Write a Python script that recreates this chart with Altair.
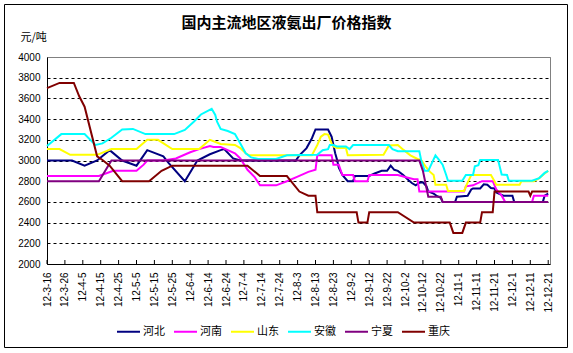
import altair as alt
import pandas as pd

YEAR = 2012
CJK = "Noto Sans CJK SC"
LATIN = "Liberation Sans"

SERIES = ["河北", "河南", "山东", "安徽", "宁夏", "重庆"]
COLORS = ["#000080", "#FF00FF", "#FFFF00", "#00FFFF", "#800080", "#800000"]

TICK_DATES = ["3-16", "3-26", "4-5", "4-15", "4-25", "5-5", "5-15", "5-25", "6-4", "6-14",
              "6-24", "7-4", "7-14", "7-24", "8-3", "8-13", "8-23", "9-2", "9-12", "9-22",
              "10-2", "10-12", "10-22", "11-1", "11-11", "11-21", "12-1", "12-11", "12-21"]
Y_TICKS = [2000, 2200, 2400, 2600, 2800, 3000, 3200, 3400, 3600, 3800, 4000]

hebei_dates = ["3-16", "3-30", "4-6", "4-13", "4-20", "4-27", "5-5", "5-11", "5-20", "5-23",
               "6-1", "6-8", "6-15", "6-21", "6-23", "6-28", "7-2", "8-2", "8-4", "8-8",
               "8-11", "8-13", "8-20", "8-22", "8-24", "8-25", "8-26", "8-28", "8-31", "9-3",
               "9-4", "9-12", "9-15", "9-19", "9-22", "9-24", "9-26", "9-28", "10-1", "10-4",
               "10-6", "10-8", "10-10", "10-12", "10-14", "10-15", "10-18", "10-20", "10-22", "10-23",
               "10-30", "10-31", "11-6", "11-8", "11-9", "11-13", "11-15", "11-17", "11-19", "11-21",
               "11-22", "11-26", "12-1", "12-2", "12-18", "12-19", "12-21"]
hebei_values = [3000, 3000, 2950, 3000, 3100, 3000, 2950, 3100, 3040, 2975,
                2800, 3000, 3060, 3100, 3110, 3020, 3000, 3000, 3050, 3120,
                3215, 3300, 3300, 3230, 3070, 3010, 2930, 2860, 2800, 2800,
                2850, 2850, 2875, 2900, 2900, 2950, 2910, 2900, 2860, 2810,
                2780, 2760, 2785, 2790, 2750, 2700, 2680, 2655, 2640, 2600,
                2600, 2650, 2660, 2720, 2730, 2730, 2770, 2765, 2735, 2730,
                2690, 2660, 2660, 2600, 2600, 2660, 2680]

henan_dates = ["3-16", "4-14", "4-22", "5-5", "5-9", "5-11", "5-20", "5-27", "6-4", "6-9",
               "6-15", "6-17", "6-21", "6-25", "6-29", "7-2", "7-6", "7-10", "7-13", "7-22",
               "7-28", "8-3", "8-9", "8-13", "8-14", "8-22", "8-23", "8-26", "8-28", "9-3",
               "9-4", "9-11", "9-12", "9-28", "10-2", "10-7", "10-9", "10-10", "11-4", "11-5",
               "11-9", "11-14", "11-20", "11-22", "11-25", "11-27", "12-12", "12-13", "12-21"]
henan_values = [2850, 2850, 2900, 2900, 2960, 3000, 3000, 3020, 3080, 3110,
                3140, 3130, 3130, 3100, 3070, 3020, 2910, 2840, 2760, 2760,
                2800, 2845, 2890, 2910, 3050, 3050, 2960, 2960, 2860, 2860,
                2800, 2800, 2860, 2860, 2840, 2820, 2820, 2700, 2700, 2750,
                2760, 2800, 2800, 2720, 2660, 2600, 2600, 2660, 2660]

shandong_dates = ["3-16", "3-23", "3-29", "4-13", "4-21", "5-5", "5-11", "5-17", "5-25", "6-9",
                  "6-15", "6-21", "6-29", "7-2", "7-5", "7-7", "8-11", "8-14", "8-16", "8-18",
                  "8-20", "8-22", "8-23", "8-25", "8-30", "8-31", "9-20", "9-23", "9-28", "10-1",
                  "10-5", "10-9", "10-11", "10-14", "10-16", "10-18", "10-19", "10-25", "10-26", "11-4",
                  "11-5", "11-8", "11-19", "11-21", "11-22", "12-5", "12-6", "12-13", "12-16", "12-19",
                  "12-21"]
shandong_values = [3110, 3110, 3055, 3055, 3110, 3110, 3200, 3200, 3110, 3110,
                   3200, 3160, 3150, 3120, 3070, 3050, 3050, 3150, 3230, 3255,
                   3250, 3165, 3135, 3120, 3120, 3050, 3055, 3145, 3150, 3105,
                   3050, 3015, 3005, 2930, 2890, 2860, 2765, 2765, 2705, 2705,
                   2750, 2860, 2860, 2800, 2765, 2765, 2800, 2800, 2830, 2875,
                   2900]

anhui_dates = ["3-16", "3-24", "4-6", "4-12", "4-16", "4-21", "4-27", "5-3", "5-10", "5-26",
               "6-1", "6-6", "6-10", "6-16", "6-18", "6-19", "6-21", "6-25", "6-29", "7-2",
               "7-5", "7-8", "7-12", "7-22", "7-28", "8-14", "8-17", "8-20", "8-21", "8-23",
               "8-25", "8-30", "9-1", "9-3", "9-23", "9-25", "9-28", "10-10", "10-11", "10-13",
               "10-15", "10-17", "10-19", "10-21", "10-23", "10-25", "10-26", "11-3", "11-5", "11-9",
               "11-10", "11-12", "11-13", "11-23", "11-25", "11-28", "11-29", "12-12", "12-16", "12-19",
               "12-21"]
anhui_values = [3140, 3255, 3255, 3150, 3165, 3220, 3300, 3305, 3255, 3255,
                3295, 3375, 3445, 3500, 3440, 3375, 3305, 3285, 3255, 3165,
                3070, 3030, 3015, 3015, 3050, 3055, 3100, 3110, 3150, 3150,
                3135, 3135, 3110, 3150, 3150, 3110, 3090, 3090, 3005, 2900,
                2900, 2975, 3050, 3005, 2960, 2860, 2805, 2805, 2860, 2860,
                2945, 2955, 3005, 3005, 2865, 2860, 2805, 2805, 2830, 2880,
                2900]

ningxia_dates = ["3-16", "4-14", "4-21", "10-10", "10-12", "10-15", "10-22", "10-23", "12-21"]
ningxia_values = [2800, 2800, 3000, 3000, 2900, 2650, 2650, 2600, 2600]

chongqing_dates = ["3-16", "3-23", "3-31", "4-3", "4-6", "4-13", "4-16", "4-20", "4-27", "5-12",
                   "5-19", "5-25", "7-6", "7-13", "7-28", "8-4", "8-9", "8-13", "8-14", "9-5",
                   "9-6", "9-11", "9-12", "9-28", "10-7", "10-27", "10-29", "11-3", "11-5", "11-13",
                   "11-14", "11-20", "11-21", "12-10", "12-11", "12-12", "12-21"]
chongqing_values = [3700, 3750, 3750, 3620, 3520, 3040, 3005, 2950, 2800, 2800,
                    2900, 2950, 2950, 2850, 2850, 2700, 2660, 2660, 2500, 2500,
                    2400, 2400, 2500, 2500, 2400, 2400, 2300, 2300, 2400, 2400,
                    2500, 2500, 2700, 2700, 2660, 2700, 2700]


def iso(md):
    m, d = md.split("-")
    return f"{YEAR}-{int(m):02d}-{int(d):02d}T00:00:00"


def dt(md):
    m, d = md.split("-")
    return alt.DateTime(year=YEAR, month=int(m), date=int(d))


series_data = [
    ("河北", hebei_dates, hebei_values),
    ("河南", henan_dates, henan_values),
    ("山东", shandong_dates, shandong_values),
    ("安徽", anhui_dates, anhui_values),
    ("宁夏", ningxia_dates, ningxia_values),
    ("重庆", chongqing_dates, chongqing_values),
]
rows = []
for name, dates, vals in series_data:
    assert len(dates) == len(vals), name
    for md, v in zip(dates, vals):
        rows.append({"series": name, "date": iso(md), "value": v})
df = pd.DataFrame(rows)
ticks_df = pd.DataFrame({"date": [iso(t) for t in TICK_DATES]})

W, H = 503, 207

x_enc = alt.X(
    "date:T",
    scale=alt.Scale(domain=[dt("3-16"), dt("12-22")]),
    axis=alt.Axis(
        values=[dt(t) for t in TICK_DATES],
        labelExpr="timeFormat(datum.value, '%y-%-m-%-d')",
        labelAngle=270, labelOverlap=False, labelFlush=False,
        ticks=False, grid=False, title=None,
        labelFont=LATIN, labelFontSize=10, labelColor="black", labelPadding=8,
        domainColor="black", domainWidth=1,
    ),
)
y_enc = alt.Y(
    "value:Q",
    scale=alt.Scale(domain=[2000, 4000], nice=False, zero=False),
    axis=alt.Axis(
        values=Y_TICKS, format="d", ticks=False,
        labelFont=LATIN, labelFontSize=10, labelColor="black", labelPadding=7,
        domainColor="black", domainWidth=1,
        grid=True,
        gridColor={"condition": {"test": "datum.value == 4000", "value": "#808080"}, "value": "black"},
        gridDash={"condition": {"test": "datum.value == 4000", "value": []}, "value": [3, 3]},
        gridWidth=1,
        title="元/吨", titleAngle=0, titleX=-27, titleY=-20, titleAlign="left",
        titleBaseline="middle", titleFont=CJK, titleFontSize=11, titleFontWeight="normal",
        titleColor="black",
    ),
)
color_enc = alt.Color(
    "series:N",
    scale=alt.Scale(domain=SERIES, range=COLORS),
    legend=alt.Legend(
        orient="none", legendX=69, legendY=262, direction="horizontal", title=None,
        symbolType="stroke", symbolSize=529, symbolStrokeWidth=2,
        labelFont=CJK, labelFontSize=11, labelColor="black", labelOffset=2,
        columnPadding=5, padding=0,
    ),
)

border = alt.Chart(alt.Data(values=[{}])).mark_rect(
    fillOpacity=0, stroke="black", strokeWidth=1
).encode(
    x=alt.value(-42.5), x2=alt.value(520.5), y=alt.value(-52.5), y2=alt.value(290.5)
)

tick_marks = alt.Chart(ticks_df).mark_rule(color="black", strokeWidth=1).encode(
    x=x_enc, y=alt.value(H), y2=alt.value(H - 4)
)

base = alt.Chart(df)
lines = [
    base.transform_filter(alt.datum.series == name)
    .mark_line(strokeWidth=2)
    .encode(x=x_enc, y=y_enc, color=color_enc)
    for name in SERIES
]

chart = alt.layer(border, tick_marks, *lines).properties(
    width=W, height=H,
    autosize="none",
    padding={"left": 47, "top": 57, "right": 23, "bottom": 89},
    title=alt.Title(
        "国内主流地区液氨出厂价格指数", font=CJK, fontSize=15, fontWeight="bold",
        color="black", anchor="middle", frame="group", offset=-27, dx=-12,
    ),
    background="white",
).configure_view(stroke="#808080", strokeWidth=1)

chart.save("out.html", embed_options={"renderer": "svg", "actions": False})
